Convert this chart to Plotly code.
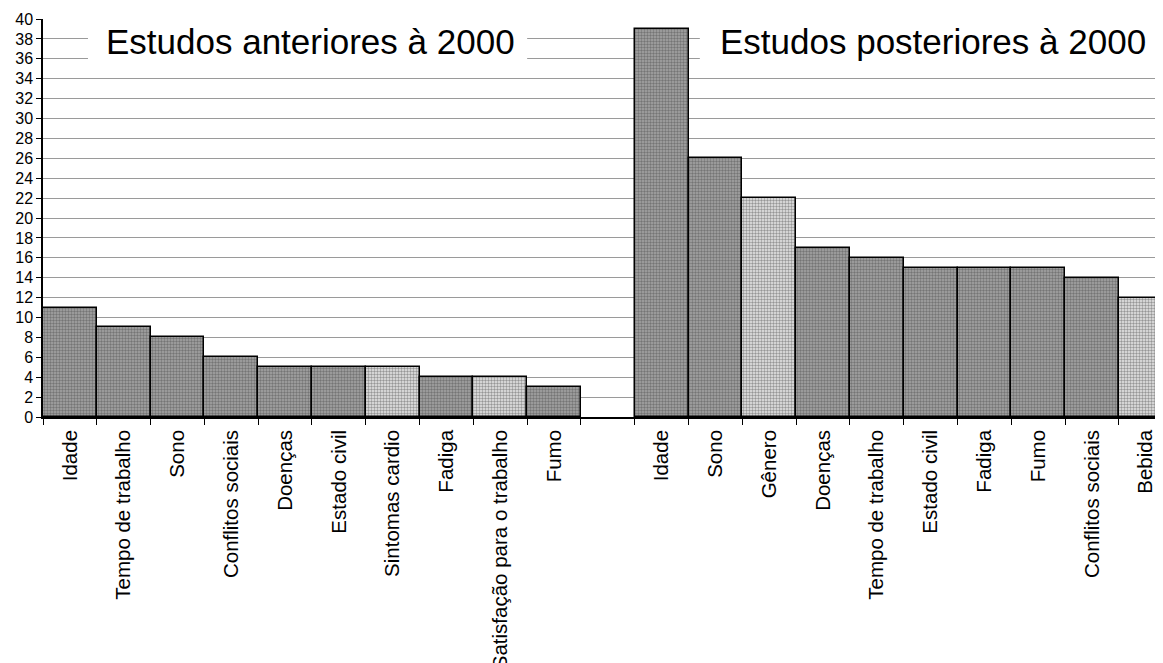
import plotly.graph_objects as go

# ---- data ----
before_labels = ["Idade", "Tempo de trabalho", "Sono", "Conflitos sociais", "Doenças",
                 "Estado civil", "Sintomas cardio", "Fadiga", "Satisfação para o trabalho", "Fumo"]
before_values = [11, 9, 8, 6, 5, 5, 5, 4, 4, 3]
before_light = [False, False, False, False, False, False, True, False, True, False]

after_labels = ["Idade", "Sono", "Gênero", "Doenças", "Tempo de trabalho",
                "Estado civil", "Fadiga", "Fumo", "Conflitos sociais", "Bebida"]
after_values = [39, 26, 22, 17, 16, 15, 15, 15, 14, 12]
after_light = [False, False, True, False, False, False, False, False, False, True]

title_before = "Estudos anteriores à 2000"
title_after = "Estudos posteriores à 2000"
y_ticks = list(range(0, 41, 2))

# ---- build categories (right-side names made unique with zero-width space) ----
gap = " "
cats = before_labels + [gap] + [l + "\u200b" for l in after_labels]
vals = before_values + [None] + after_values
light = before_light + [False] + after_light
ticktext = before_labels + [""] + after_labels

DARK_BG, DARK_FG = "#a6a6a6", "#8a8a8a"
LIGHT_BG, LIGHT_FG = "#e8e8e8", "#d4d4d4"
bg = [LIGHT_BG if f else DARK_BG for f in light]
fg = [LIGHT_FG if f else DARK_FG for f in light]

FONT = "Liberation Sans, Arial, sans-serif"

fig = go.Figure(go.Bar(
    x=cats, y=vals,
    marker=dict(color=bg, line=dict(color="black", width=1.5),
                pattern=dict(shape=".", fgcolor=fg, size=3, solidity=0.5, fillmode="overlay")),
    hoverinfo="skip",
))

# page body has an 8px default margin: figure is 8px smaller and margins shifted
fig.update_layout(
    width=1155, height=655,
    margin=dict(l=35, r=0, t=11, b=246, autoexpand=False),
    paper_bgcolor="white", plot_bgcolor="white",
    bargap=0, showlegend=False,
    font=dict(family=FONT, color="black"),
)

fig.update_xaxes(
    type="category", categoryorder="array", categoryarray=cats,
    range=[-0.5, 20.32], automargin=False,
    tickmode="array", tickvals=cats, ticktext=ticktext,
    tickson="boundaries", ticks="outside", ticklen=6, tickcolor="black", tickwidth=1,
    ticklabelstandoff=3,
    tickangle=-90, tickfont=dict(size=20.5, family=FONT, color="black"),
    showline=True, linecolor="black", linewidth=1.5,
    showgrid=False, zeroline=False,
)
fig.update_yaxes(
    range=[0, 40], tickmode="array", tickvals=y_ticks, automargin=False,
    ticks="outside", ticklen=5, tickcolor="black", tickwidth=1,
    tickfont=dict(size=16, family=FONT, color="black"),
    showline=True, linecolor="black", linewidth=1.5,
    showgrid=True, gridcolor="#9a9a9a", gridwidth=1,
    zeroline=False,
)

# white boxes behind the titles (hide gridlines)
for x0, x1 in [(0.336, 8.5), (11.71, 20.22)]:
    fig.add_shape(type="rect", xref="x", yref="y", x0=x0, x1=x1, y0=35.0, y1=40.6,
                  fillcolor="white", line=dict(width=0), layer="above")

fig.add_annotation(x=4.48, y=37.7, xref="x", yref="y", text=title_before, showarrow=False,
                   font=dict(size=35, family=FONT, color="black"))
fig.add_annotation(x=16.05, y=37.7, xref="x", yref="y", text=title_after, showarrow=False,
                   font=dict(size=35, family=FONT, color="black"))

fig.write_html("out.html")
